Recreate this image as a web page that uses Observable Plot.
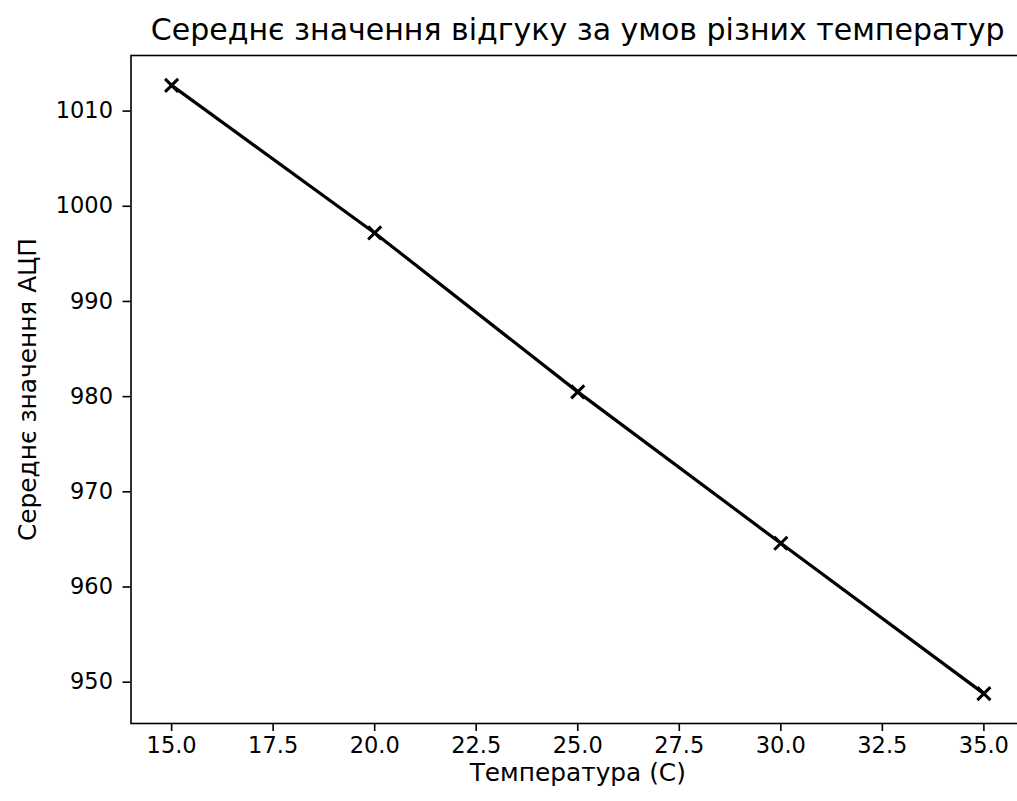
<!DOCTYPE html>
<html>
<head>
<meta charset="utf-8">
<script src="https://cdn.jsdelivr.net/npm/d3@7"></script>
<script src="https://cdn.jsdelivr.net/npm/@observablehq/plot@0.6"></script>
<style>
  html, body { margin: 0; padding: 0; background: white; }
</style>
</head>
<body>
<div id="chart"></div>
<script>
const temps = [15, 20, 25, 30, 35];
const adcMeans = [1012.7, 997.2, 980.5, 964.6, 948.8];
const xTicks = [15, 17.5, 20, 22.5, 25, 27.5, 30, 32.5, 35];
const yTicks = [950, 960, 970, 980, 990, 1000, 1010];
const titleText = "Середнє значення відгуку за умов різних температур";
const xLabel = "Температура (С)";
const yLabel = "Середнє значення АЦП";

const data = temps.map((t, i) => ({t, v: adcMeans[i]}));

const chart = Plot.plot({
  width: 1017,
  height: 801,
  marginLeft: 130.5,
  marginRight: -7,
  marginTop: 55,
  marginBottom: 78,
  x: {domain: [14, 36]},
  y: {domain: [945.66, 1015.84]},
  style: {fontFamily: "DejaVu Sans", background: "white", color: "black"},
  marks: [
    Plot.frame({stroke: "black", strokeWidth: 1.6}),
    Plot.axisX({ticks: xTicks, tickFormat: d => d.toFixed(1), tickSize: 8, tickPadding: 6, fontSize: 22.5, label: null, strokeWidth: 1.6}),
    Plot.axisY({ticks: yTicks, tickFormat: d => String(d), tickSize: 8, tickPadding: 10, fontSize: 22.5, label: null, strokeWidth: 1.6}),
    Plot.line(data, {x: "t", y: "v", stroke: "black", strokeWidth: 3.2}),
    Plot.dot(data, {x: "t", y: "v", symbol: "times", r: 6, stroke: "black", strokeWidth: 3}),
    Plot.text([titleText], {frameAnchor: "top", textAnchor: "middle", lineAnchor: "middle", dy: -25, fontSize: 30, fill: "black"}),
    Plot.text([xLabel], {frameAnchor: "bottom", textAnchor: "middle", lineAnchor: "middle", dy: 50, fontSize: 24.8, fill: "black"}),
    Plot.text([yLabel], {frameAnchor: "left", textAnchor: "middle", lineAnchor: "middle", dx: -102.5, rotate: -90, fontSize: 24.8, fill: "black"})
  ]
});
document.getElementById("chart").appendChild(chart);
</script>
</body>
</html>
